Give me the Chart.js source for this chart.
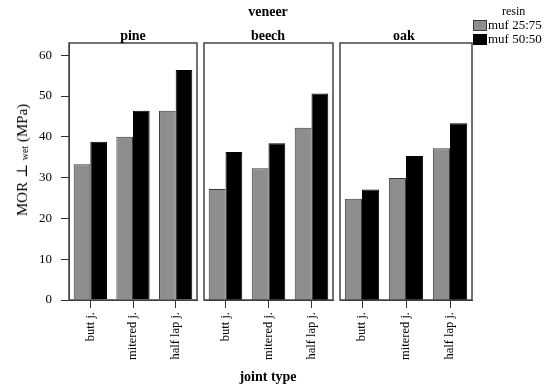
<!DOCTYPE html>
<html>
<head>
<meta charset="utf-8">
<script src="https://cdn.jsdelivr.net/npm/chart.js@4.4.0/dist/chart.umd.min.js"></script>
<style>
  html, body { margin: 0; padding: 0; background: #fff; }
  #wrap { position: relative; width: 549px; height: 391px; overflow: hidden; font-family: "Liberation Serif", "DejaVu Serif", serif; color: #000; }
  canvas { position: absolute; top: 0; }
  .t { position: absolute; white-space: nowrap; transform: translate(-50%, -50%); }
  .b { font-weight: bold; font-size: 14px; }
  #ytitle { position: absolute; left: 22px; top: 160px; transform: translate(-50%, -50%) rotate(-90deg); font-size: 15px; white-space: nowrap; }
  #ytitle sub { font-size: 10px; vertical-align: -1px; }
  .lg { position: absolute; font-size: 13px; white-space: nowrap; }
  .sw { position: absolute; width: 12px; height: 9px; border: 1px solid #3a3a3a; }
</style>
</head>
<body>
<div id="wrap">
  <canvas id="c0" width="199" height="391" style="left:0px"></canvas>
  <canvas id="c1" width="135" height="391" style="left:200px"></canvas>
  <canvas id="c2" width="137" height="391" style="left:336px"></canvas>
  <div class="t b" style="left:268px; top:12px;">veneer</div>
  <div class="t b" style="left:133px; top:36px;">pine</div>
  <div class="t b" style="left:268px; top:36px;">beech</div>
  <div class="t b" style="left:404px; top:36px;">oak</div>
  <div class="t b" style="left:268px; top:377px;">joint type</div>
  <div id="ytitle">MOR ⊥ <sub>wet</sub> (MPa)</div>
  <div class="lg" style="left:502px; top:4px; font-size:12px;">resin</div>
  <div class="sw" style="left:473px; top:20px; background:#8e8e8e;"></div>
  <div class="lg" style="left:488px; top:17px;">muf 25:75</div>
  <div class="sw" style="left:473px; top:34px; background:#000; border-color:#000;"></div>
  <div class="lg" style="left:488px; top:31px;">muf 50:50</div>
</div>
<script>
// ---- data ----
const veneers = ["pine", "beech", "oak"];
const jointTypes = ["butt j.", "mitered j.", "half lap j."];
const resins = ["muf 25:75", "muf 50:50"];
const yTicks = [0, 10, 20, 30, 40, 50, 60];
// MOR wet (MPa), per veneer, in jointTypes order
const pine_muf2575  = [33.3, 40.0, 46.4];
const pine_muf5050  = [38.8, 46.4, 56.4];
const beech_muf2575 = [27.2, 32.3, 42.2];
const beech_muf5050 = [36.3, 38.4, 50.6];
const oak_muf2575   = [24.8, 29.9, 37.2];
const oak_muf5050   = [27.1, 35.3, 43.3];

const panels = [
  [pine_muf2575, pine_muf5050],
  [beech_muf2575, beech_muf5050],
  [oak_muf2575, oak_muf5050]
];

const FONT = "'Liberation Serif', 'DejaVu Serif', serif";
const AXIS = "#333333";

const frame = {
  id: 'frame',
  afterDraw(chart) {
    const a = chart.chartArea, ctx = chart.ctx;
    ctx.save();
    ctx.strokeStyle = "#444444";
    ctx.lineWidth = 1.5;
    ctx.strokeRect(a.left, a.top, a.right - a.left, a.bottom - a.top);
    ctx.restore();
  }
};

function makePanel(id, idx, showY, padLeft, padRight) {
  const vals = panels[idx];
  new Chart(document.getElementById(id), {
    type: 'bar',
    data: {
      labels: jointTypes,
      datasets: [
        { label: resins[0], data: vals[0], backgroundColor: '#8e8e8e', borderColor: '#3a3a3a', borderWidth: 1 },
        { label: resins[1], data: vals[1], backgroundColor: '#000000', borderColor: '#000000', borderWidth: 1 }
      ]
    },
    plugins: [frame],
    options: {
      responsive: false,
      animation: false,
      devicePixelRatio: 1,
      layout: { padding: { left: padLeft, right: padRight, top: 43, bottom: 0 } },
      plugins: { legend: { display: false }, tooltip: { enabled: false } },
      datasets: { bar: { categoryPercentage: 0.78, barPercentage: 1.0 } },
      scales: {
        x: {
          type: 'category',
          offset: true,
          grid: { display: true, offset: false, drawOnChartArea: false, drawTicks: true, tickLength: 8, color: AXIS, lineWidth: 1 },
          border: { display: true, color: AXIS, width: 1 },
          ticks: { minRotation: 90, maxRotation: 90, autoSkip: false, padding: 4, color: '#000', font: { family: FONT, size: 12.5 } },
          afterFit(s) { s.height = 91; }
        },
        y: {
          display: showY,
          min: 0, max: 63,
          grid: { display: true, drawOnChartArea: false, drawTicks: true, tickLength: 8, color: AXIS, lineWidth: 1 },
          border: { display: true, color: AXIS, width: 1 },
          ticks: { stepSize: 10, includeBounds: false, padding: 9, color: '#000', font: { family: FONT, size: 13 } },
          afterBuildTicks(s) { s.ticks = yTicks.map(v => ({ value: v })); },
          afterFit(s) { s.width = showY ? 69 : 0; }
        }
      }
    }
  });
}

makePanel('c0', 0, true, 0, 2);
makePanel('c1', 1, false, 4, 2);
makePanel('c2', 2, false, 4, 1);
</script>
</body>
</html>
